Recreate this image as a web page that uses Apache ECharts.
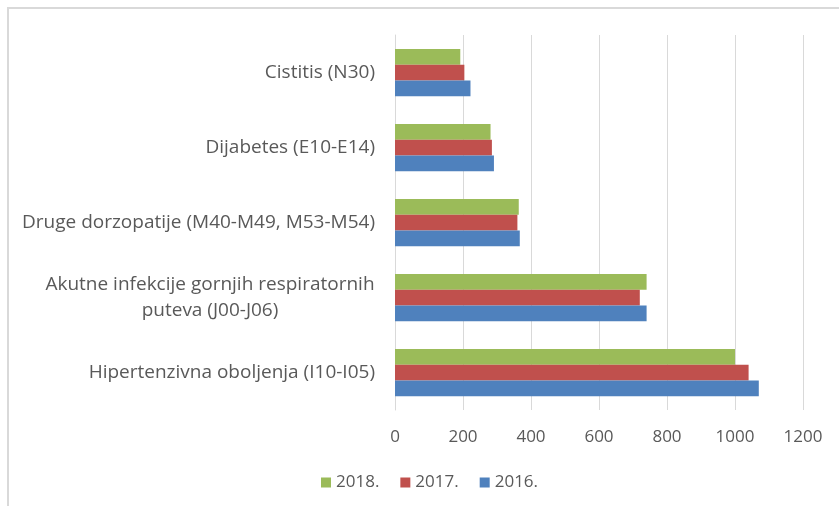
<!DOCTYPE html>
<html>
<head>
<meta charset="utf-8">
<script src="https://cdn.jsdelivr.net/npm/echarts@6/dist/echarts.min.js"></script>
<style>
  html, body { margin: 0; padding: 0; background: #fff; }
  #main { width: 839px; height: 506px; }
</style>
</head>
<body>
<div id="main"></div>
<script>
var categories = [
    'Hipertenzivna oboljenja (I10-I05)',
    'Akutne infekcije gornjih respiratornih\nputeva (J00-J06)',
    'Druge dorzopatije (M40-M49, M53-M54)',
    'Dijabetes (E10-E14)',
    'Cistitis (N30)'
];
var years = ['2018.', '2017.', '2016.'];
var values2018 = [1000, 740, 364, 281, 192];
var values2017 = [1040, 720, 360, 285, 204];
var values2016 = [1070, 740, 367, 291, 222];
var xTicks = [0, 200, 400, 600, 800, 1000, 1200];

var fontFam = 'Open Sans';
var labelSize = 19;
var txtColor = '#595959';

// sirina prvog reda da se drugi red centrira ispod njega
var ctx = document.createElement('canvas').getContext('2d');
ctx.font = labelSize + 'px "' + fontFam + '"';

function fmtLabel(val) {
    var lines = val.split('\n');
    if (lines.length == 1) return val;
    return lines.map(function (l) { return '{c|' + l + '}'; }).join('\n');
}

function makeRich() {
    var w = 0;
    categories.forEach(function (c) {
        var lines = c.split('\n');
        if (lines.length > 1) w = Math.ceil(ctx.measureText(lines[0]).width);
    });
    return { c: { width: w, align: 'center', fontSize: labelSize, fontFamily: fontFam, color: txtColor, lineHeight: 26 } };
}

var dom = document.getElementById('main');
var myChart = echarts.init(dom);

var option = {
    animation: false,
    graphic: [{
        type: 'rect',
        shape: { x: 8, y: 8, width: 900, height: 600 },
        style: { fill: 'none', stroke: '#d9d9d9', lineWidth: 2 },
        silent: true
    }],
    legend: {
        data: years,
        bottom: 10,
        left: 316,
        icon: 'rect',
        itemWidth: 10,
        itemHeight: 10,
        itemGap: 21,
        textStyle: { fontFamily: fontFam, fontSize: 17, color: txtColor }
    },
    grid: {
        left: 395,
        right: 36,
        top: 35,
        bottom: 96
    },
    xAxis: {
        type: 'value',
        min: xTicks[0],
        max: xTicks[xTicks.length - 1],
        interval: 200,
        axisLine: { show: false },
        axisTick: { show: false },
        axisLabel: {
            fontFamily: fontFam, fontSize: 17, color: txtColor, margin: 19,
            formatter: function (v) { return String(v); }
        },
        splitLine: { lineStyle: { color: '#d9d9d9', width: 1 } }
    },
    yAxis: {
        type: 'category',
        data: categories,
        axisLine: { lineStyle: { color: '#d9d9d9' } },
        axisTick: { show: false },
        axisLabel: {
            fontFamily: fontFam,
            fontSize: labelSize,
            color: txtColor,
            margin: 20,
            lineHeight: 26,
            formatter: fmtLabel,
            rich: makeRich()
        }
    },
    // prva serija je gore u grupi
    series: [
        { name: years[0], type: 'bar', data: values2018, color: '#9BBB59', barGap: '0%', barCategoryGap: '37%' },
        { name: years[1], type: 'bar', data: values2017, color: '#C0504D', barGap: '0%', barCategoryGap: '37%' },
        { name: years[2], type: 'bar', data: values2016, color: '#4F81BD', barGap: '0%', barCategoryGap: '37%' }
    ]
};

myChart.setOption(option);
</script>
</body>
</html>
